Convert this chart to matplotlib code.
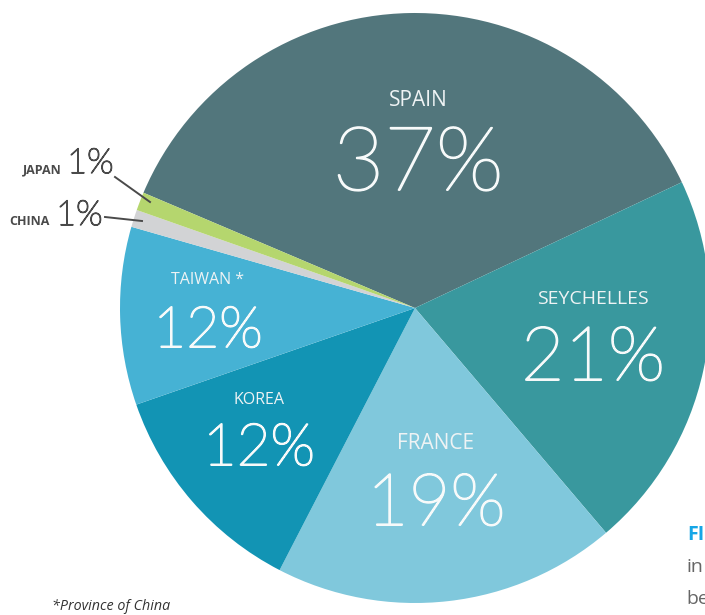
#!/usr/bin/env python3
"""Pie chart of shares by country (recreated)."""
import matplotlib
matplotlib.use("Agg")
import matplotlib.pyplot as plt
import matplotlib.patheffects as pe

W, H = 705, 615

# wedge sizes as drawn (the printed labels round differently)
COUNTRIES = ["SPAIN", "SEYCHELLES", "FRANCE", "KOREA", "TAIWAN", "CHINA", "JAPAN"]
SHARES = [36.6, 20.8, 18.8, 12.1, 9.75, 0.95, 1.0]
PCT_LABELS = ["37%", "21%", "19%", "12%", "12%", "1%", "1%"]
COLORS = ["#52767C", "#39989E", "#80C8DC", "#1294B4", "#46B2D4", "#D2D3D5", "#B5D66E"]

LIGHT = ["Lato", "DejaVu Sans"]
SANS = ["Open Sans", "DejaVu Sans"]


def Y(y):
    # pixel-from-top -> axes coordinate
    return H - y


def thin(color, lw):
    # the light weight comes out as a hairline; thicken it a touch
    return [pe.withStroke(linewidth=lw, foreground=color)]


fig = plt.figure(figsize=(W / 100, H / 100), dpi=100)
ax = fig.add_axes([0, 0, 1, 1])

ax.pie(SHARES, colors=COLORS, startangle=157, counterclock=False,
       center=(415, Y(308)), radius=295, wedgeprops=dict(linewidth=0))
# pie() resets the limits, so set the pixel frame afterwards
ax.set_xlim(0, W)
ax.set_ylim(0, H)
ax.set_aspect("equal")
ax.axis("off")

# in-slice labels: (label, index, x, name baseline, pct baseline, name size, pct size)
inside = [
    ("SPAIN", 0, 418, 106, 190, 15, 64),
    ("SEYCHELLES", 1, 593, 304, 380, 14, 54),
    ("FRANCE", 2, 436, 449, 525, 15, 52),
    ("KOREA", 3, 259, 404, 465, 11.5, 42),
    ("TAIWAN *", 4, 208, 284, 347, 11.5, 41),
]
for lab, i, x, yn, yp, sn, sp in inside:
    ax.text(x, Y(yn), lab, ha="center", va="baseline", fontsize=sn,
            family=SANS, fontweight="medium", color="#EEF3F4")
    ax.text(x, Y(yp), PCT_LABELS[i], ha="center", va="baseline", fontsize=sp,
            family=LIGHT, fontweight="light", color="#F7FAFA",
            path_effects=thin("#F7FAFA", 1.3))

# outside labels for the tiny slices
for name, i, xn, xp, yb, p0, p1 in [
        ("JAPAN", 6, 62, 67, 173, (115, 177), (150, 202)),
        ("CHINA", 5, 50, 56, 225, (105, 217), (142, 221))]:
    ax.text(xn, Y(yb), name, ha="right", va="baseline", fontsize=9,
            family=SANS, fontweight="bold", color="#4A4A4A")
    ax.text(xp, Y(yb), PCT_LABELS[i], ha="left", va="baseline", fontsize=25,
            family=LIGHT, fontweight="light", color="#4A4A4A",
            path_effects=thin("#4A4A4A", 1.0))
    ax.plot([p0[0], p1[0]], [Y(p0[1]), Y(p1[1])], color="#4A4A4A", lw=1.4)

ax.text(52, Y(610), "*Province of China", ha="left", va="baseline", fontsize=10.3,
        family=SANS, style="italic", color="#333333")

# caption cut off at the right edge
ax.text(687, Y(540), "FIGURE", ha="left", va="baseline", fontsize=14,
        family=SANS, fontweight="bold", color="#16A6E6")
ax.text(687, Y(572), "in", ha="left", va="baseline", fontsize=14,
        family=SANS, color="#666666")
ax.text(686, Y(604), "be", ha="left", va="baseline", fontsize=14,
        family=SANS, color="#666666")

fig.savefig("out.png", dpi=100)
